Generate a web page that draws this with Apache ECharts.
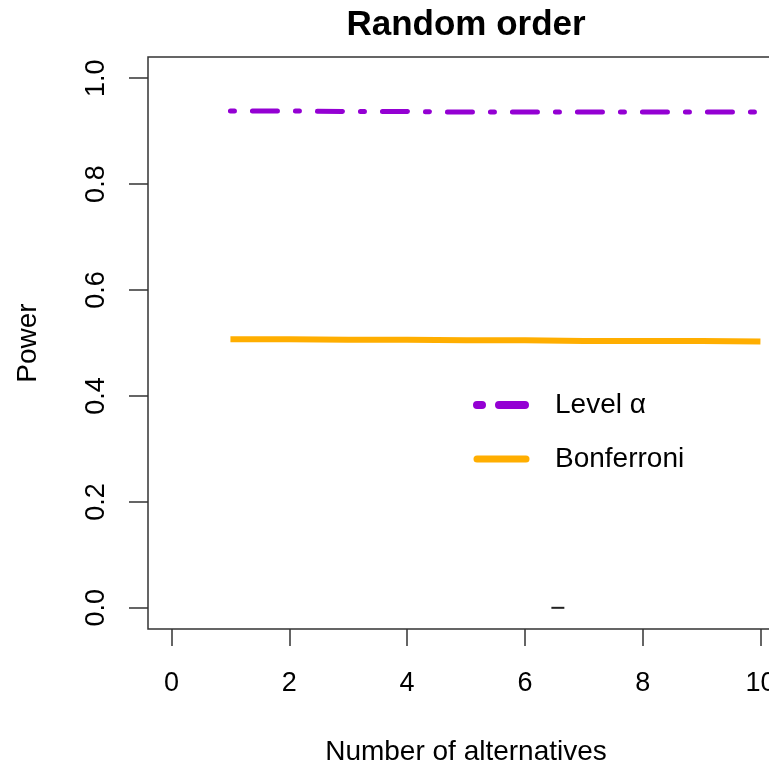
<!DOCTYPE html>
<html>
<head>
<meta charset="utf-8">
<script src="https://cdn.jsdelivr.net/npm/echarts@6/dist/echarts.min.js"></script>
<style>html,body{margin:0;padding:0;background:#fff}#c{width:769px;height:764px}</style>
</head>
<body>
<div id="c"></div>
<script>
// Data
const alternatives = [1, 2, 3, 4, 5, 6, 7, 8, 9, 10];
const levelAlpha   = [0.938, 0.938, 0.937, 0.937, 0.936, 0.936, 0.936, 0.936, 0.936, 0.936];
const bonferroni   = [0.507, 0.507, 0.506, 0.506, 0.505, 0.505, 0.504, 0.504, 0.504, 0.503];
const otherX = [6.45, 6.67];
const otherY = [0, 0];
const xTicks = [0, 2, 4, 6, 8, 10];
const yTicks = [0, 0.2, 0.4, 0.6, 0.8, 1.0];

const FONT = '"Liberation Sans", Arial, sans-serif';
const chart = echarts.init(document.getElementById('c'), null, {renderer: 'canvas'});

chart.setOption({
  animation: false,
  backgroundColor: '#fff',
  title: {
    text: 'Random order',
    left: 466, top: 8, textAlign: 'center', padding: 0,
    textStyle: {fontFamily: FONT, fontSize: 35, fontWeight: 'bold', color: '#000'}
  },
  grid: {
    left: 148, top: 57, width: 636, height: 572,
    outerBoundsMode: 'none', containLabel: false,
    show: true, borderColor: '#333', borderWidth: 1.5, backgroundColor: 'transparent'
  },
  legend: {
    orient: 'vertical', left: 473, top: 390, padding: 0,
    itemWidth: 49, itemHeight: 14, itemGap: 24,
    textStyle: {fontFamily: FONT, fontSize: 28, color: '#000', lineHeight: 30, padding: [0, 0, 0, 24]},
    data: [
      {name: 'Level α', itemStyle: {opacity: 0}, lineStyle: {width: 8, type: [5, 17, 26, 17], cap: 'round', color: '#9400D3'}},
      {name: 'Bonferroni', itemStyle: {opacity: 0}, lineStyle: {width: 7, type: 'solid', cap: 'round', color: '#FFAE00'}}
    ],
    selectedMode: false
  },
  xAxis: {
    type: 'value', min: -0.4, max: 10.4,
    name: 'Number of alternatives', nameLocation: 'middle', nameGap: 109,
    nameTextStyle: {fontFamily: FONT, fontSize: 28, color: '#000'},
    axisLine: {show: false, onZero: false},
    axisTick: {show: true, inside: false, customValues: xTicks, length: 17, lineStyle: {color: '#333', width: 1.5}},
    axisLabel: {customValues: xTicks, fontFamily: FONT, fontSize: 27, color: '#000', margin: 41},
    splitLine: {show: false}
  },
  yAxis: {
    type: 'value', min: -0.04, max: 1.04,
    name: 'Power', nameLocation: 'middle', nameGap: 106, nameRotate: 90,
    nameTextStyle: {fontFamily: FONT, fontSize: 28, color: '#000'},
    axisLine: {show: false, onZero: false},
    axisTick: {show: true, inside: false, customValues: yTicks, length: 19, lineStyle: {color: '#333', width: 1.5}},
    axisLabel: {customValues: yTicks, rotate: 90, fontFamily: FONT, fontSize: 27, color: '#000', margin: 38,
      formatter: v => v.toFixed(1)},
    splitLine: {show: false}
  },
  series: [
    {
      name: 'Level α', type: 'line', symbol: 'none', silent: true,
      data: alternatives.map((x, i) => [x, levelAlpha[i]]),
      lineStyle: {color: '#9400D3', width: 5, type: [4, 18, 25, 18], cap: 'round'}
    },
    {
      name: 'Bonferroni', type: 'line', symbol: 'none', silent: true,
      data: alternatives.map((x, i) => [x, bonferroni[i]]),
      lineStyle: {color: '#FFAE00', width: 6, type: 'solid'}
    },
    {
      name: 'other', type: 'line', symbol: 'none', silent: true,
      data: otherX.map((x, i) => [x, otherY[i]]),
      lineStyle: {color: '#222', width: 2}
    }
  ]
});
</script>
</body>
</html>
